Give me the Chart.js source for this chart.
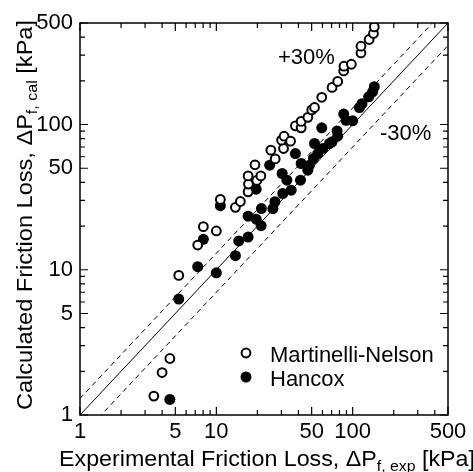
<!DOCTYPE html>
<html>
<head>
<meta charset="utf-8">
<script src="https://cdn.jsdelivr.net/npm/chart.js"></script>
<style>
  body { margin: 0; background: #fff; }
  #wrap { width: 473px; height: 472px; }
</style>
</head>
<body>
<div id="wrap"><canvas id="chart"></canvas></div>
<script>
// experimental vs calculated friction loss [kPa]
const mnExp = [3.48, 4.0, 4.56, 5.3, 7.3, 8.03, 10, 10.7, 13.8, 15.0, 17.1, 17.2, 17.1, 19.2, 19.8, 21.2,
  25.1, 27.0, 31.1, 30.1, 31.4, 35.0, 38.0, 41.9, 41.9, 46.9, 50.1, 52.5, 59.3, 70.6, 77.6, 85.9, 86.3,
  97.8, 115, 115, 132, 142, 144];
const mnCal = [1.35, 1.96, 2.45, 9.14, 14.8, 19.8, 18.5, 30.5, 26.9, 29.5, 34.4, 38.9, 44.3, 52.8, 41.2, 44.3,
  66.6, 58.0, 68.4, 78.0, 83.1, 76.8, 97.9, 94.9, 105, 112, 126, 131, 154, 180, 198, 234, 252,
  260, 311, 346, 385, 423, 470];

const hxExp = [4.56, 5.3, 7.3, 8.03, 10, 10.7, 13.8, 14.6, 17.1, 17.1, 19.6, 19.6, 21.3, 21.4, 24.6, 26.0,
  26.9, 30.4, 30.7, 32.9, 35.4, 38.0, 41.4, 41.9, 46.9, 48.2, 51.5, 52.5, 55.4, 59.3, 60.3, 67.5, 70.6,
  76.8, 77.6, 85.9, 89.4, 100, 112, 117, 131, 140, 144];
const hxCal = [1.28, 6.28, 10.5, 16.2, 9.53, 27.6, 12.5, 15.8, 16.8, 23.4, 22.3, 35.9, 20.1, 26.4, 52.5, 26.4,
  29.4, 46.0, 33.5, 41.4, 35.3, 63.1, 41.4, 53.9, 48.5, 52.5, 58.3, 74.0, 63.1, 94.9, 68.4, 74.0, 76.0,
  90.4, 83.1, 118, 107, 106, 131, 139, 155, 168, 182];

const refX = [1, 500];
const ratios = [1, 1.3, 0.7];
const majorTicks = [1, 5, 10, 50, 100, 500];
const minorTicks = [2, 3, 4, 6, 7, 8, 9, 20, 30, 40, 60, 70, 80, 90, 200, 300, 400];

const FONT = '"Liberation Sans", Arial, Helvetica, sans-serif';

function pts(xs, ys) { return xs.map((x, i) => ({ x: x, y: ys[i] })); }

const datasets = [
  { label: 'Martinelli-Nelson', data: pts(mnExp, mnCal), pointRadius: 4.4, pointBorderWidth: 2,
    pointBackgroundColor: '#fff', pointBorderColor: '#000', showLine: false },
  { label: 'Hancox', data: pts(hxExp, hxCal), pointRadius: 5.5, pointBorderWidth: 0,
    pointBackgroundColor: '#000', pointBorderColor: '#000', showLine: false }
];
ratios.forEach(r => {
  datasets.push({
    label: 'ref' + r,
    data: refX.map(x => ({ x: x, y: x * r })),
    showLine: true, pointRadius: 0, borderColor: '#000', borderWidth: 1,
    borderDash: r === 1 ? [] : [5, 4]
  });
});

function logScale(axis) {
  return {
    type: 'logarithmic', min: 1, max: 500,
    grid: { display: false, drawTicks: false },
    border: { display: false },
    afterBuildTicks: s => { s.ticks = majorTicks.map(v => ({ value: v })); },
    afterFit: s => { if (axis === 'x') s.height = 57; else s.width = 80; },
    ticks: {
      color: '#000', font: { family: FONT, size: 22 },
      padding: axis === 'x' ? 4 : 7,
      autoSkip: false, maxRotation: 0,
      callback: v => String(v)
    }
  };
}

// inward ticks on all four sides, frame, titles, legend and labels
const decor = {
  id: 'decor',
  afterDraw(chart) {
    const ctx = chart.ctx;
    const a = chart.chartArea;
    const sx = chart.scales.x, sy = chart.scales.y;
    ctx.save();
    ctx.strokeStyle = '#000';
    ctx.lineWidth = 1.5;
    ctx.strokeRect(a.left, a.top, a.right - a.left, a.bottom - a.top);
    ctx.lineWidth = 1.2;
    const tick = (v, len) => {
      const px = sx.getPixelForValue(v), py = sy.getPixelForValue(v);
      ctx.beginPath();
      ctx.moveTo(px, a.bottom); ctx.lineTo(px, a.bottom - len);
      ctx.moveTo(px, a.top); ctx.lineTo(px, a.top + len);
      ctx.moveTo(a.left, py); ctx.lineTo(a.left + len, py);
      ctx.moveTo(a.right, py); ctx.lineTo(a.right - len, py);
      ctx.stroke();
    };
    majorTicks.forEach(v => tick(v, 8));
    minorTicks.forEach(v => tick(v, 5));

    ctx.fillStyle = '#000';
    const big = '22px ' + FONT, small = '15px ' + FONT;
    // title with subscript, squeezed/stretched to a target length
    function title(parts, x, y, len) {
      let w = 0;
      parts.forEach(p => { ctx.font = p.sub ? small : big; w += ctx.measureText(p.t).width; });
      ctx.save();
      ctx.translate(x, y);
      ctx.scale(len / w, 1);
      let cx = 0;
      parts.forEach(p => {
        ctx.font = p.sub ? small : big;
        ctx.fillText(p.t, cx, p.sub ? 5 : 0);
        cx += ctx.measureText(p.t).width;
      });
      ctx.restore();
    }
    ctx.textBaseline = 'alphabetic';
    ctx.textAlign = 'left';
    title([{ t: 'Experimental Friction Loss, ΔP' }, { t: 'f, exp', sub: true }, { t: ' [kPa]' }], 59, 466, 416);

    ctx.save();
    ctx.translate(32, 410);
    ctx.rotate(-Math.PI / 2);
    title([{ t: 'Calculated Friction Loss, ΔP' }, { t: 'f, cal', sub: true }, { t: ' [kPa]' }], 0, 0, 390);
    ctx.restore();

    ctx.font = big;
    ctx.fillText('+30%', 278, 64);
    ctx.fillText('-30%', 380, 140);

    // legend
    const ds = chart.data.datasets;
    [[353, ds[0]], [377, ds[1]]].forEach(([y, d]) => {
      ctx.beginPath();
      ctx.arc(246, y, d.pointRadius, 0, Math.PI * 2);
      ctx.fillStyle = d.pointBackgroundColor;
      ctx.fill();
      if (d.pointBorderWidth) { ctx.lineWidth = d.pointBorderWidth; ctx.stroke(); }
      ctx.fillStyle = '#000';
      ctx.font = big;
      ctx.fillText(d.label, 270, y + 9);
    });
    ctx.restore();
  }
};

new Chart(document.getElementById('chart'), {
  type: 'scatter',
  data: { datasets: datasets },
  options: {
    responsive: true, maintainAspectRatio: false, animation: false,
    layout: { padding: { top: 23, right: 25, left: 0, bottom: 0 } },
    plugins: { legend: { display: false }, tooltip: { enabled: false } },
    scales: { x: logScale('x'), y: logScale('y') }
  },
  plugins: [decor]
});
</script>
</body>
</html>
